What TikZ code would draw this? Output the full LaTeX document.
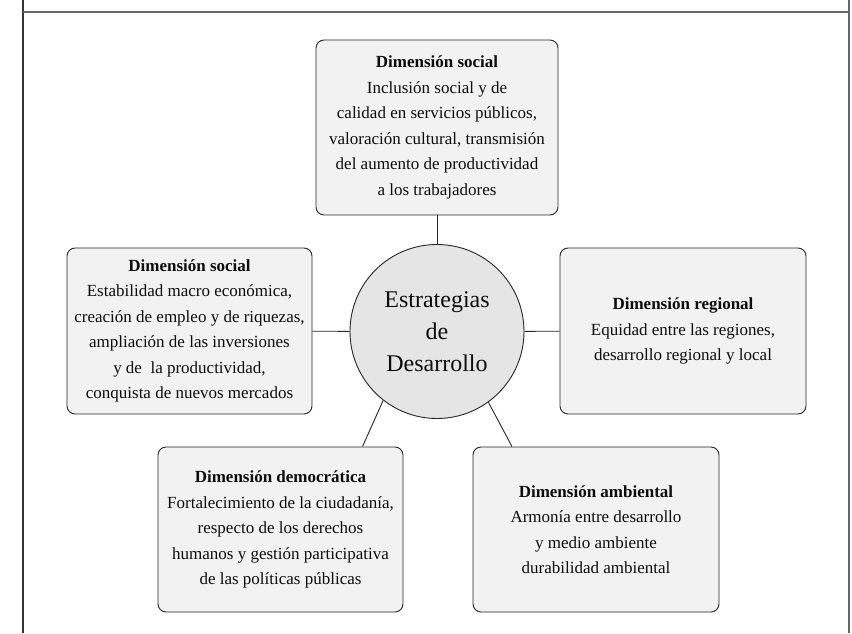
\documentclass[tikz,border=0pt]{standalone}
\usepackage{fontspec}
\setmainfont{Liberation Serif}
\usetikzlibrary{calc}

\begin{document}
\begin{tikzpicture}[x=1pt,y=1pt,
  dimbox/.style={draw=black!85,fill=black!5,rounded corners=8pt,line width=0.9pt,
    minimum width=245pt,minimum height=165pt,align=center,text=black!95,inner sep=2pt,
    font=\fontsize{17}{25.5}\selectfont},
  core/.style={circle,draw=black!85,fill=black!10,line width=0.9pt,minimum size=174pt,
    align=center,text=black!95,inner sep=0pt,font=\fontsize{24}{32}\selectfont},
  link/.style={draw=black!85,line width=0.9pt}]
\useasboundingbox (0,0) rectangle (852,633);
\draw[black!80,line width=1.3pt] (23,0) -- (23,633);
\draw[black!60,line width=1.3pt] (849,0) -- (849,633);
\draw[black!60,line width=1.8pt] (23,621) -- (849,621);

\node[core] (core) at (437,301.5) {Estrategias\\de\\Desarrollo};
\node[dimbox,minimum width=242pt,minimum height=175pt] (social) at (437,505.5)
  {{\bfseries Dimensión social}\\Inclusión social y de\\calidad en servicios públicos,\\valoración cultural, transmisión\\del aumento de productividad\\a los trabajadores};
\node[dimbox,minimum height=166pt] (economic) at (189.5,302)
  {{\bfseries Dimensión social}\\Estabilidad macro económica,\\creación de empleo y de riquezas,\\ampliación de las inversiones\\y de \ la productividad,\\conquista de nuevos mercados};
\node[dimbox,minimum width=246pt,minimum height=166pt] (regional) at (683,302)
  {{\bfseries Dimensión regional}\\Equidad entre las regiones,\\desarrollo regional y local};
\node[dimbox] (democratic) at (280.5,103.5)
  {{\bfseries Dimensión democrática}\\Fortalecimiento de la ciudadanía,\\respecto de los derechos\\humanos y gestión participativa\\de las políticas públicas};
\node[dimbox,minimum width=246pt] (ambient) at (596,103.5)
  {{\bfseries Dimensión ambiental}\\Armonía entre desarrollo\\y medio ambiente\\durabilidad ambiental};

\draw[link] (social) -- (core);
\draw[link] (economic) -- (core);
\draw[link] (regional) -- (core);
\draw[link] (core.232) -- ([xshift=82pt]democratic.north);
\draw[link] (core.306) -- ([xshift=-84pt]ambient.north);
\end{tikzpicture}
\end{document}
